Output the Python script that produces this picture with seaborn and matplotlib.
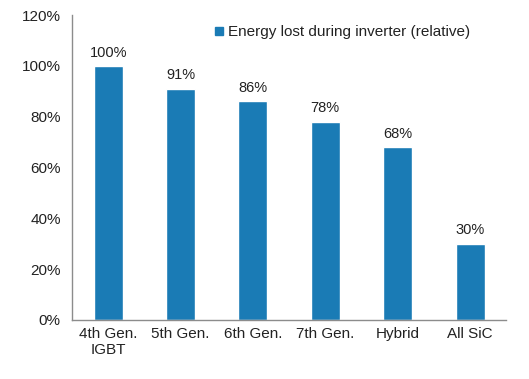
import matplotlib
matplotlib.use("Agg")
import matplotlib.pyplot as plt
from matplotlib.lines import Line2D
import numpy as np
import pandas as pd
import seaborn as sns

# ===== 数据 =====
CATEGORIES = ["4th Gen.\nIGBT", "5th Gen.", "6th Gen.", "7th Gen.", "Hybrid", "All SiC"]
ENERGY_LOST = [100, 91, 86, 78, 68, 30]
SERIES_NAME = "Energy lost during inverter (relative)"
Y_TICKS = [0, 20, 40, 60, 80, 100, 120]

BAR_COLOR = "#1a7bb5"
AXIS_COLOR = "#8c8c8c"
TEXT_COLOR = "#222222"

sns.set_theme(style="white")
plt.rcParams["font.family"] = ["Liberation Sans", "DejaVu Sans"]
plt.rcParams["font.size"] = 10.5

df = pd.DataFrame({"cat": CATEGORIES, "val": ENERGY_LOST})

fig = plt.figure(figsize=(5.29, 3.79), dpi=100)
ax = fig.add_axes([0.136, 0.156, 0.821, 0.804])

sns.barplot(data=df, x="cat", y="val", color=BAR_COLOR, width=0.4,
            saturation=1, ax=ax)

for i, v in enumerate(ENERGY_LOST):
    ax.text(i, v + 2.5, f"{v}%", ha="center", va="bottom",
            fontsize=10.5, color=TEXT_COLOR)

ax.set_ylim(0, 120)
ax.set_xlim(-0.5, len(CATEGORIES) - 0.5)
ax.set_yticks(Y_TICKS)
ax.set_yticklabels([f"{t}%" for t in Y_TICKS], color=TEXT_COLOR)
ax.set_xticks(range(len(CATEGORIES)))
ax.set_xticklabels(CATEGORIES, color=TEXT_COLOR)
ax.set_xlabel("")
ax.set_ylabel("")

# 类别之间的刻度线
ax.set_xticks(np.arange(-0.5, len(CATEGORIES), 1), minor=True)
ax.tick_params(axis="x", which="major", length=0, pad=5)
ax.tick_params(axis="x", which="minor", length=3, direction="out", color=AXIS_COLOR, width=1)
ax.tick_params(axis="y", which="major", length=4, direction="out", color=AXIS_COLOR, width=1, pad=4)

for side in ["top", "right"]:
    ax.spines[side].set_visible(False)
for side in ["left", "bottom"]:
    ax.spines[side].set_color(AXIS_COLOR)
    ax.spines[side].set_linewidth(1)

handle = Line2D([], [], marker="s", linestyle="none", markersize=5.5,
                markerfacecolor=BAR_COLOR, markeredgecolor=BAR_COLOR)
ax.legend([handle], [SERIES_NAME], loc="upper left", bbox_to_anchor=(0.297, 1.012),
          frameon=False, handlelength=0.6, handletextpad=0.3, fontsize=11,
          labelcolor=TEXT_COLOR)

fig.savefig("out.png", dpi=100)
